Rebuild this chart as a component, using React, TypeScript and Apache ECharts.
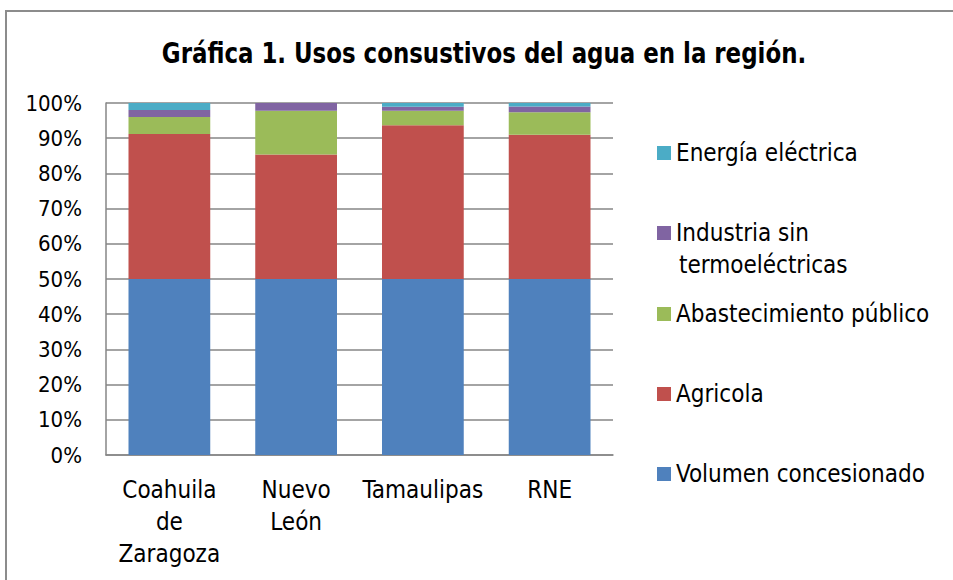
import React, { useEffect, useRef } from "react";
import * as echarts from "echarts";

const categories = ["Coahuila\nde\nZaragoza", "Nuevo\nLeón", "Tamaulipas", "RNE"];
const volumen = [50, 50, 50, 50];
const agricola = [41.2, 35.4, 43.7, 41.0];
const abastecimiento = [4.8, 12.4, 4.1, 6.4];
const industria = [2.0, 2.2, 1.1, 1.6];
const energia = [2.0, 0, 1.1, 1.0];

const seriesNames = [
  "Volumen concesionado",
  "Agricola",
  "Abastecimiento público",
  "Industria sin termoeléctricas",
  "Energía eléctrica",
];
const seriesColors = ["#4F81BD", "#C0504D", "#9BBB59", "#8064A2", "#4BACC6"];
const yTicks = { min: 0, max: 100, interval: 10 };
const titleText = "Gráfica 1. Usos consustivos del agua en la región.";

export default function App() {
  const ref = useRef<HTMLDivElement>(null);
  useEffect(() => {
    if (!ref.current) return;
    const chart = echarts.init(ref.current, undefined, { renderer: "svg" });
    const data = [volumen, agricola, abastecimiento, industria, energia];
    const labelFont = "DejaVu Sans Condensed";
    const legendCenters = [474, 394, 314, 233, 153];
    const legends = seriesNames.map((name, i) => ({
      data: [name],
      left: 657,
      top: legendCenters[i] - 13,
      padding: 0,
      itemWidth: 14,
      itemHeight: 14,
      itemGap: 8,
      icon: "rect",
      formatter: (n: string) => (n === "Industria sin termoeléctricas" ? "Industria sin" : n),
      textStyle: { fontFamily: labelFont, fontSize: 24, color: "#000", lineHeight: 26 },
      selectedMode: false,
    }));
    chart.setOption({
      animation: false,
      backgroundColor: "#fff",
      graphic: [
        {
          type: "rect",
          shape: { x: 6, y: 11, width: 960, height: 600 },
          style: { fill: "none", stroke: "#8c8c8c", lineWidth: 2 },
          silent: true,
        },
        {
          type: "text",
          x: 484,
          y: 53,
          scaleX: 0.91,
          style: {
            text: titleText,
            font: `bold 28px "${labelFont}"`,
            fill: "#000",
            align: "center",
            verticalAlign: "middle",
          },
        },
        {
          type: "text",
          left: 679,
          top: 253,
          style: { text: "termoeléctricas", font: `24px "${labelFont}"`, fill: "#000" },
        },
      ],
      legend: legends,
      grid: { left: 106, right: 340, top: 103, bottom: 125 },
      xAxis: {
        type: "category",
        data: categories,
        axisLine: { lineStyle: { color: "#868686", width: 1.5 } },
        axisTick: { show: false },
        axisLabel: {
          margin: 19,
          fontFamily: labelFont,
          fontSize: 24,
          lineHeight: 32,
          color: "#000",
          interval: 0,
          verticalAlign: "top",
        },
      },
      yAxis: {
        type: "value",
        min: yTicks.min,
        max: yTicks.max,
        interval: yTicks.interval,
        axisLine: { show: true, lineStyle: { color: "#868686", width: 1.5 } },
        axisTick: { show: false },
        splitLine: { lineStyle: { color: "#868686", width: 1.5 } },
        axisLabel: {
          formatter: "{value}%",
          margin: 24,
          fontFamily: labelFont,
          fontSize: 22,
          color: "#000",
        },
      },
      series: seriesNames.map((name, i) => ({
        name,
        type: "bar",
        stack: "total",
        barWidth: "64.5%",
        data: data[i],
        itemStyle: { color: seriesColors[i] },
      })),
    });
    return () => chart.dispose();
  }, []);
  return <div ref={ref} style={{ position: "absolute", left: 0, top: 0, width: 953, height: 580 }} />;
}
